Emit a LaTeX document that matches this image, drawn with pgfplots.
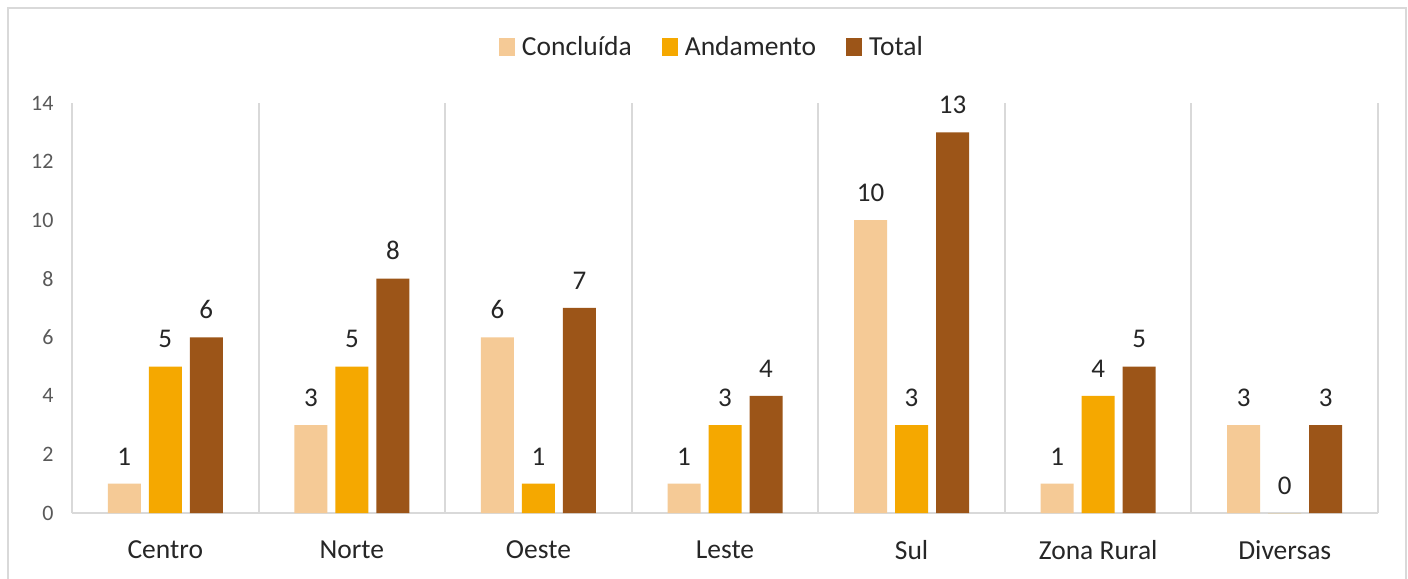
\documentclass[border=0pt]{standalone}
\usepackage{fontspec}
\setmainfont{Carlito}
\usepackage{pgfplots}
\pgfplotsset{compat=1.18}
\definecolor{cConc}{HTML}{F5CA96}
\definecolor{cAnd}{HTML}{F5A800}
\definecolor{cTot}{HTML}{9C5518}
\definecolor{gridc}{HTML}{D9D9D9}
\definecolor{tickc}{HTML}{595959}
\begin{document}
\begin{tikzpicture}
\useasboundingbox (0,0) rectangle (1408bp,579bp);
\fill[white] (0,0) rectangle (1408bp,579bp);
\begin{scope}
\clip (0,0) rectangle (1408bp,579bp);
\draw[gridc, line width=2bp] (8bp,-10bp) -- (8bp,571bp) -- (1406bp,571bp) -- (1406bp,-10bp);
\end{scope}
\begin{axis}[
  at={(72bp,66bp)}, anchor=south west,
  scale only axis, width=1306bp, height=410bp,
  ymin=0, ymax=14, xmin=-0.5, xmax=6.5,
  ytick={0,2,...,14},
  xtick={0,...,6},
  xticklabels={Centro,Norte,Oeste,Leste,Sul,Zona Rural,Diversas},
  minor xtick={-0.5,0.5,...,6.5},
  xminorgrids, minor grid style={gridc, line width=2bp},
  major tick length=0, minor tick length=0,
  axis x line*=bottom, axis y line*=left,
  x axis line style={gridc, line width=2bp, -},
  y axis line style={draw=none, -},
  /pgf/number format/assume math mode=true,
  yticklabel style={font=\fontsize{22bp}{26bp}\selectfont, text=tickc, xshift=-15bp},
  xticklabel style={font=\fontsize{27.5bp}{32bp}\selectfont, text=black!85, yshift=-24bp},
  ybar=8bp, bar width=33bp,
  nodes near coords,
  every node near coord/.append style={font=\fontsize{27bp}{32bp}\selectfont, text=black!85, yshift=15bp},
  legend columns=3,
  legend style={at={(0.49,1.1366)}, anchor=center, draw=none, fill=none,
    font=\fontsize{27.5bp}{32bp}\selectfont, text=black!85,
    /tikz/every even column/.append style={column sep=28bp}},
  legend image code/.code={\fill[#1] (0bp,-9bp) rectangle (16bp,9bp); \path (21bp,0bp);},
  clip=false,
]
\addplot[fill=cConc, draw=none] coordinates {(0,1) (1,3) (2,6) (3,1) (4,10) (5,1) (6,3)};
\addplot[fill=cAnd, draw=none] coordinates {(0,5) (1,5) (2,1) (3,3) (4,3) (5,4) (6,0)};
\addplot[fill=cTot, draw=none] coordinates {(0,6) (1,8) (2,7) (3,4) (4,13) (5,5) (6,3)};
\legend{Concluída, Andamento, Total}
\end{axis}
\end{tikzpicture}
\end{document}
